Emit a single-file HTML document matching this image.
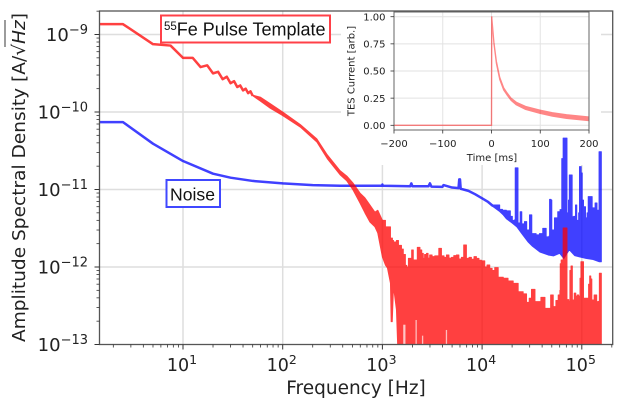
<!DOCTYPE html>
<html lang="en">
<head>
<meta charset="utf-8">
<title>55Fe pulse template and noise spectral density</title>
<style>
html,body{margin:0;padding:0;background:#fff;}
#chart{display:block;width:622px;height:403px;filter:blur(0.3px);font-family:"DejaVu Sans",sans-serif;}
</style>
</head>
<body>
<svg id="chart" xmlns="http://www.w3.org/2000/svg" width="622" height="403" viewBox="0 0 622 403"></svg>
<script>
// All amplitudes below are in pA/sqrt(Hz); 1 pA = 1e-12 A.
const xDecades = [1, 2, 3, 4, 5];
const yDecades = [-9, -10, -11, -12, -13];
const minorSteps = [2, 3, 4, 5, 6, 7, 8, 9];

const redLineFreq = [1.45,2.5,5,7.5,10,12.5,15,17.5,20,22.5,25,27.5,30,32.5,35,37.5,40,42.5,45,47.5,50];
const redLineVal = [1360,1360,750,720,500,500,380,400,315,330,265,285,235,250,210,220,190,200,175,185,162];

const redHiFreq = [50,60,75,100,150,220,280,376,440,507,
596,668,750,841,898,1000,1073,1124,1205,1260,
1292,1384,1449,1553,1620,1700,1754,1824,1966,2040,
2240,2380,2480,2570,2650,2770,2870,2980,3150,3350,3680,3910,4150,4390,4650,4930,5200,5530,5850,6200,6540,6960,7400,7810,8300,8770,9300,9840,10630,11200,11930,12600,13390,
14500,16300,18200,20500,23000,25800,27900,29700,31300,33900,
38900,42700,48700,51700,55000,58000,60300,60800,62100,64000,
65000,70000,71000,74000,76000,78000,80400,84000,87000,90000,
93000,96000,98000,102000,104000,113000,117000,120000,123000,126000,
133000,141000,147000,150000,155000,157000];
const redHiVal = [165,155,128,100,69,45,28,17.5,14.9,12.1,
9,7.8,6.3,5.1,5.4,4,3.3,3.3,2.36,2.2,
2.1,2.2,1.9,1.7,1.45,1.05,1,1.29,1.66,1.23,
1.79,1.66,1.5,1.29,1.45,1.5,1.3,1.43,1.36,1.39,1.74,1.39,1.33,1.43,1.3,1.33,1.4,1.43,1.27,1.33,1.92,1.29,1.33,1.26,1.36,1.29,1.22,1.2,1,1.06,.96,.9,.98,
.737,.715,.66,.615,.48,.45,.35,.395,.515,.357,
.406,.293,.435,.308,.37,.435,.5,1.1,1.23,1.2,
3.19,3.19,.38,.36,.9,1.03,.375,.46,.42,.435,
.42,.715,1.17,1.17,.395,.395,.6,.766,.7,.375,
.435,.357,.36,.83,.83,.2];

const redLoFreq = [50,60,75,100,150,220,280,376,440,507,596,668,750,841,898,1000,1073,1124,1205,1225,1255,1292,1384,1449,157000];
const redLoVal = [162,138,112,90,64,41,25,15.5,12.9,9.9,6.7,5,3.8,3.3,2.75,1.35,1.06,.97,.62,.197,.197,.56,.28,.05,.05];

const redNotchFreq = [1640,1680,2180,2530,4390];
const redNotchTop = [.18,.18,.207,.13,.154];

const blueLineFreq = [1.45,2.5,5,10,20,30,50,100,200,376,700,990,1000,1010,1400,1900,1950,2000,2900,3000,3100,4000,4100,5000,5800,5900,6000,6100,6500,7300,8500,10000,11500,12900];
const blueLineVal = [74,74,39,23.3,16,14.2,12.9,12,11.4,11.2,11.2,11.2,11.6,11.2,11.1,11,12,11,11,12,10.9,10.8,11.4,10.6,10.4,13.5,13.5,10.2,10,9.6,8.7,7.7,6.9,6.1];

const blueHiFreq = [12900,15000,16000,17500,19200,20100,21300,21500,22700,22900,
24000,24100,25000,26600,28000,29500,29900,30900,31500,34800,
37600,40600,43900,46900,47500,49100,50000,53200,57400,60500,
63000,65000,69000,71000,73500,75000,78500,80000,83000,86500,
89000,93000,94800,98600,101000,104000,108900,113000,116000,122000,
127000,136000,142000,147000,149000,155000,157000];
const blueHiVal = [6.3,5.55,5.4,5.3,4.5,4,4.1,19,19,3.7,
3.6,5.17,3.6,3.85,3,3,4.7,4.7,2.7,2.6,
2.7,3.15,2.45,2.5,7.47,7.3,3,4.3,5.17,5.5,
25,46,46,5,7.3,15.4,15.4,4.45,4.5,6.3,
4,5,19.7,16.3,7.3,6,4.3,5,8.1,8.1,
5.8,6.7,5.4,5.4,30.7,30.7,1.5];

const blueLoFreq = [12900,15000,16300,17500,20000,22300,25000,29000,32000,38000,46000,52000,60000,66000,75000,85000,95000,110000,130000,150000,157000];
const blueLoVal = [6,5.2,4.7,4.2,3.7,3.3,2.7,2.1,1.85,1.56,1.43,1.39,1.5,1.29,1.67,1.4,1.35,1.29,1.25,1.17,1.17];

const insetXTicks = [-200,-100,0,100,200];
const insetYTicks = [0,0.25,0.5,0.75,1];
const insetLineTime = [-200,0,0.5];
const insetLineVal = [0,0,1];
const insetBandTime = [0.5,5,7,10,17,25,31,40,51,70,99,125,154,200];
const insetBandHi = [1,.765,.695,.59,.44,.345,.305,.25,.212,.174,.14,.116,.097,.077];
const insetBandLo = [1,.75,.68,.57,.42,.325,.285,.23,.188,.146,.11,.084,.063,.043];

const NS = 'http://www.w3.org/2000/svg';
const svg = document.getElementById('chart');

const plotLeft = 99.5, plotRight = 612.7, plotTop = 11, plotBottom = 344.5;
const xPerDecade = 99.7, yPerDecade = 77.5;
const stepFromFreq = 900;
function xScale(f){ return 183 + xPerDecade * (Math.log10(f) - 1); }
function yScale(pA){ return 34.5 + yPerDecade * (-9 - Math.log10(pA * 1e-12)); }
function yExp(e){ return 34.5 + yPerDecade * (-9 - e); }
function xExp(e){ return 183 + xPerDecade * (e - 1); }

const inLeft = 394, inRight = 589, inTop = 12, inBottom = 130;
function tScale(t){ return inLeft + (t + 200) * (inRight - inLeft) / 400; }
function vScale(v){ return 125.3 - 108.6 * v; }

function mk(tag, attrs, parent){
  const el = document.createElementNS(NS, tag);
  for (const k in attrs) el.setAttribute(k, attrs[k]);
  (parent || svg).appendChild(el);
  return el;
}
function pts(xs, ys, fx, fy){
  return xs.map((x, i) => fx(x).toFixed(2) + ',' + fy(ys[i]).toFixed(2));
}
// upper envelope: bins above stepFromFreq hold their value until the next bin
function stepped(xs, ys){
  const out = [];
  xs.forEach((f, i) => {
    out.push(xScale(f).toFixed(2) + ',' + yScale(ys[i]).toFixed(2));
    if (f >= stepFromFreq && i + 1 < xs.length) {
      out.push(xScale(xs[i + 1]).toFixed(2) + ',' + yScale(ys[i]).toFixed(2));
    }
  });
  return out;
}

// clip regions
const defs = mk('defs', {});
const clipMain = mk('clipPath', {id:'clip-main'}, defs);
mk('rect', {x:plotLeft, y:plotTop, width:plotRight-plotLeft, height:plotBottom-plotTop}, clipMain);
const clipInset = mk('clipPath', {id:'clip-inset'}, defs);
mk('rect', {x:inLeft, y:inTop, width:inRight-inLeft, height:inBottom-inTop}, clipInset);

// main grid
xDecades.forEach(d => {
  const l = mk('line', {x1:xExp(d), x2:xExp(d), y1:plotTop, y2:plotBottom, stroke:'#dedede', 'stroke-width':1.5});
  
  
});
yDecades.slice(0, 4).forEach(d => {
  const l = mk('line', {x1:plotLeft, x2:plotRight, y1:yExp(d), y2:yExp(d), stroke:'#dedede', 'stroke-width':1.5});
  
  
});

// white backing behind inset (hides the grid only)
const inBack = mk('rect', {x:341, y:plotTop, width:260, height:154, fill:'#fff'});



// noise series
const blueGroup = mk('g', {opacity:0.75, 'clip-path':'url(#clip-main)'});


mk('polyline', {points:pts(blueLineFreq, blueLineVal, xScale, yScale).join(' '), fill:'none', stroke:'#0000ff', 'stroke-width':2.5, 'stroke-linejoin':'round'}, blueGroup);
mk('polygon', {points:stepped(blueHiFreq, blueHiVal).concat(pts(blueLoFreq, blueLoVal, xScale, yScale).reverse()).join(' '), fill:'#0000ff', stroke:'#0000ff', 'stroke-width':1, 'stroke-linejoin':'round'}, blueGroup);

// pulse template series
const redGroup = mk('g', {opacity:0.75, 'clip-path':'url(#clip-main)'});


mk('polyline', {points:pts(redLineFreq, redLineVal, xScale, yScale).join(' '), fill:'none', stroke:'#ff0000', 'stroke-width':2.5, 'stroke-linejoin':'round'}, redGroup);
mk('polygon', {points:stepped(redHiFreq, redHiVal).concat(pts(redLoFreq, redLoVal, xScale, yScale).reverse()).join(' '), fill:'#ff0000', stroke:'#ff0000', 'stroke-width':1, 'stroke-linejoin':'round'}, redGroup);
redNotchFreq.forEach((f, i) => {
  const n = mk('line', {x1:xScale(f), x2:xScale(f), y1:plotBottom, y2:yScale(redNotchTop[i]), stroke:'#fff', 'stroke-opacity':0.65, 'stroke-width':1.3});
  
  
});

// main frame
const frame = mk('rect', {x:plotLeft, y:plotTop, width:plotRight-plotLeft, height:plotBottom-plotTop, fill:'none', stroke:'#555', 'stroke-width':1.3});



// x ticks
xDecades.forEach(d => {
  const t = mk('line', {x1:xExp(d), x2:xExp(d), y1:plotBottom, y2:plotBottom+5, stroke:'#333', 'stroke-width':1});
  
  
  const lab = mk('text', {x:xExp(d)-1, y:371, 'text-anchor':'middle', 'font-size':17.5, fill:'#222'});
  
  
  lab.appendChild(document.createTextNode('10'));
  const s = mk('tspan', {dy:-7, 'font-size':12.5}, lab);
  s.textContent = String(d);
});
[0,1,2,3,4,5].forEach(d => minorSteps.forEach(m => {
  const x = xScale(m * Math.pow(10, d));
  if (x < plotLeft || x > plotRight) return;
  const t = mk('line', {x1:x, x2:x, y1:plotBottom, y2:plotBottom+3, stroke:'#333', 'stroke-width':0.8});
  
  
}));

// y ticks
yDecades.forEach(d => {
  const t = mk('line', {x1:plotLeft-5, x2:plotLeft, y1:yExp(d), y2:yExp(d), stroke:'#333', 'stroke-width':1});
  
  
  const lab = mk('text', {x:88, y:yExp(d)+6.5, 'text-anchor':'end', 'font-size':18, fill:'#222'});
  
  
  lab.appendChild(document.createTextNode('10'));
  const s = mk('tspan', {dy:-7, 'font-size':13}, lab);
  s.textContent = '\u2212' + Math.abs(d);
});
[-14,-13,-12,-11,-10,-9].forEach(d => minorSteps.forEach(m => {
  const y = yExp(d + Math.log10(m));
  if (y < plotTop || y > plotBottom) return;
  const t = mk('line', {x1:plotLeft-3, x2:plotLeft, y1:y, y2:y, stroke:'#333', 'stroke-width':0.8});
  
  
}));

// axis titles
const xTitle = mk('text', {x:356, y:394, 'text-anchor':'middle', 'font-size':18.5, fill:'#222'});


xTitle.textContent = 'Frequency [Hz]';

const yTitleGroup = mk('g', {transform:'translate(25,342) rotate(-90)'});


const yTitle = mk('text', {x:0, y:0, 'font-size':17.5, fill:'#222', textLength:329, lengthAdjust:'spacingAndGlyphs'}, yTitleGroup);


yTitle.appendChild(document.createTextNode('Amplitude Spectral Density [A/\u221A'));
const hz = mk('tspan', {'font-style':'italic'}, yTitle);
hz.textContent = 'Hz';
yTitle.appendChild(document.createTextNode(']'));
const bar = mk('line', {x1:295, x2:322, y1:-20, y2:-20, stroke:'#222', 'stroke-width':0.9}, yTitleGroup);



// inset
insetXTicks.forEach(t => {
  const g = mk('line', {x1:tScale(t), x2:tScale(t), y1:inTop, y2:inBottom, stroke:'#e2e2e2', 'stroke-width':1});
  
  
});
insetYTicks.forEach(v => {
  const g = mk('line', {x1:inLeft, x2:inRight, y1:vScale(v), y2:vScale(v), stroke:'#e2e2e2', 'stroke-width':1});
  
  
});
const inGroup = mk('g', {opacity:0.47, 'clip-path':'url(#clip-inset)'});


mk('polyline', {points:pts(insetLineTime, insetLineVal, tScale, vScale).join(' '), fill:'none', stroke:'#ff0000', 'stroke-width':1.4}, inGroup);
mk('polygon', {points:pts(insetBandTime, insetBandHi, tScale, vScale).concat(pts(insetBandTime, insetBandLo, tScale, vScale).reverse()).join(' '), fill:'#ff0000', stroke:'#ff0000', 'stroke-width':1.2, 'stroke-linejoin':'round'}, inGroup);
const inFrame = mk('rect', {x:inLeft, y:inTop, width:inRight-inLeft, height:inBottom-inTop, fill:'none', stroke:'#666', 'stroke-width':1});


insetXTicks.forEach(t => {
  const k = mk('line', {x1:tScale(t), x2:tScale(t), y1:inBottom, y2:inBottom+3.5, stroke:'#333', 'stroke-width':0.8});
  
  
  const lab = mk('text', {x:tScale(t), y:147, 'text-anchor':'middle', 'font-size':10, fill:'#222'});
  
  
  lab.textContent = t < 0 ? '\u2212' + Math.abs(t) : String(t);
});
insetYTicks.forEach(v => {
  const k = mk('line', {x1:inLeft-3.5, x2:inLeft, y1:vScale(v), y2:vScale(v), stroke:'#333', 'stroke-width':0.8});
  
  
  const lab = mk('text', {x:385.5, y:vScale(v)+3.6, 'text-anchor':'end', 'font-size':10, fill:'#222'});
  
  
  lab.textContent = v.toFixed(2);
});
const inXT = mk('text', {x:492, y:161, 'text-anchor':'middle', 'font-size':10, fill:'#222'});


inXT.textContent = 'Time [ms]';
const inYT = mk('text', {x:0, y:0, transform:'translate(354.5,71) rotate(-90)', 'text-anchor':'middle', 'font-size':10, fill:'#222'});


inYT.textContent = 'TES Current [arb.]';

// annotation boxes
const redBox = mk('rect', {x:161, y:15.5, width:169, height:27, fill:'#fff', stroke:'#ff4048', 'stroke-width':2});


const redLabel = mk('text', {x:164, y:35.5, 'font-family':'"Liberation Sans",sans-serif', 'font-size':18, fill:'#111'});


const sup = mk('tspan', {dy:-5.5, 'font-size':11.5}, redLabel);
sup.textContent = '55';
const rest = mk('tspan', {dy:5.5}, redLabel);
rest.textContent = 'Fe Pulse Template';

const blueBox = mk('rect', {x:166.5, y:180, width:53.5, height:27, fill:'#fff', stroke:'#4048ff', 'stroke-width':2});


const blueLabel = mk('text', {x:170, y:200.5, 'font-family':'"Liberation Sans",sans-serif', 'font-size':17.6, fill:'#111'});


blueLabel.textContent = 'Noise';
</script>
</body>
</html>
